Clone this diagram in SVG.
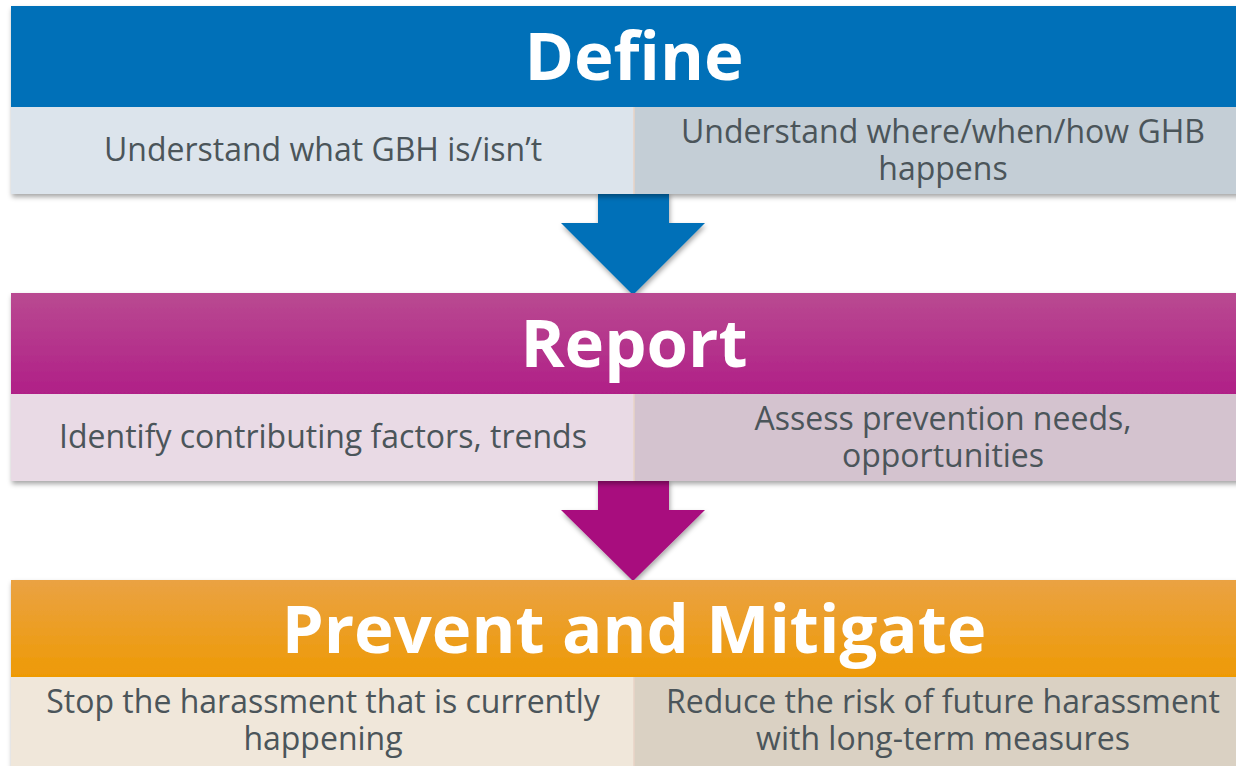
<svg xmlns="http://www.w3.org/2000/svg" width="1236" height="766" viewBox="0 0 1236 766">
<defs>
<filter id="sh" x="-5%" y="-10%" width="110%" height="130%">
<feDropShadow dx="1" dy="3" stdDeviation="2.5" flood-color="#000" flood-opacity="0.35"/>
</filter>
<linearGradient id="gPink" x1="0" y1="0" x2="0" y2="1">
<stop offset="0" stop-color="#B94A91"/>
<stop offset="1" stop-color="#B01F87"/>
</linearGradient>
<linearGradient id="gOrange" x1="0" y1="0" x2="0" y2="1">
<stop offset="0" stop-color="#EAA243"/>
<stop offset="1" stop-color="#EE9A05"/>
</linearGradient>
</defs>
<style>
.title{font-family:"Open Sans","Noto Sans",sans-serif;font-weight:bold;font-size:67px;fill:#fff;text-anchor:middle}
.sub{font-family:"Open Sans","Noto Sans",sans-serif;font-size:32px;fill:#4B555A;text-anchor:middle}
.div{stroke:#E9D3C6;stroke-width:1.5}
</style>
<rect width="1236" height="766" fill="#fff"/>

<g id="connectors">
<polygon points="598,192 669,192 669,223 705,223 633,295 561,223 598,223" fill="#0070B8" filter="url(#sh)"/>
<polygon points="598,479 669,479 669,510 705,510 633,581 561,510 598,510" fill="#A8117E" filter="url(#sh)"/>
</g>

<g id="define">
<g filter="url(#sh)">
<rect x="11" y="6" width="1240" height="101" fill="#0070B8"/>
<rect x="11" y="107" width="623" height="87" fill="#DCE4EC"/>
<rect x="634" y="107" width="617" height="87" fill="#C4CED6"/>
</g>
<line class="div" x1="634" y1="107" x2="634" y2="194"/>
<text class="title" x="634" y="80">Define</text>
<text class="sub" x="323" y="161">Understand what GBH is/isn’t</text>
<text class="sub" x="943" y="143">Understand where/when/how GHB<tspan x="943" dy="37">happens</tspan></text>
</g>

<g id="report">
<g filter="url(#sh)">
<rect x="11" y="293" width="1240" height="101" fill="url(#gPink)"/>
<rect x="11" y="394" width="623" height="87" fill="#E9DAE5"/>
<rect x="634" y="394" width="617" height="87" fill="#D4C3CF"/>
</g>
<line class="div" x1="634" y1="394" x2="634" y2="481"/>
<text class="title" x="634" y="367">Report</text>
<text class="sub" x="323" y="448">Identify contributing factors, trends</text>
<text class="sub" x="943" y="430">Assess prevention needs,<tspan x="943" dy="37">opportunities</tspan></text>
</g>

<g id="prevent">
<g filter="url(#sh)">
<rect x="11" y="580" width="1240" height="97" fill="url(#gOrange)"/>
<rect x="11" y="677" width="623" height="92" fill="#F0E7DA"/>
<rect x="634" y="677" width="617" height="92" fill="#DAD1C3"/>
</g>
<line class="div" x1="634" y1="677" x2="634" y2="766"/>
<text class="title" x="634" y="653">Prevent and Mitigate</text>
<text class="sub" x="323" y="713">Stop the harassment that is currently<tspan x="323" dy="37">happening</tspan></text>
<text class="sub" x="943" y="713">Reduce the risk of future harassment<tspan x="943" dy="37">with long-term measures</tspan></text>
</g>
</svg>
